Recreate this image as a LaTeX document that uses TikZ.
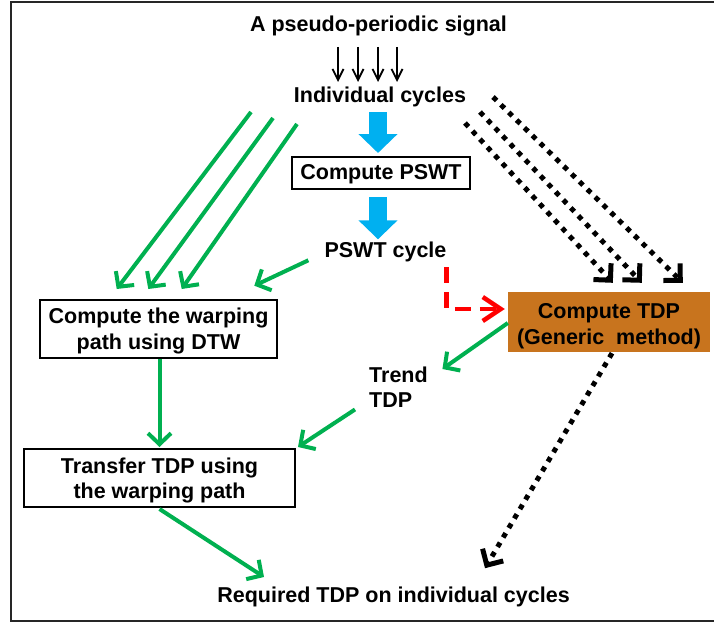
\documentclass[tikz,border=0pt]{standalone}
\usepackage{fontspec}
\setmainfont{Liberation Sans}
\usetikzlibrary{arrows.meta,calc}
\definecolor{flowgreen}{HTML}{00B050}
\definecolor{flowblue}{HTML}{00B0F0}
\definecolor{tdporange}{HTML}{C8741E}
\begin{document}
\begin{tikzpicture}[x=1pt,y=-1pt,
  every node/.style={font=\bfseries\fontsize{21.5}{25.5}\selectfont, inner sep=0pt},
  txt/.style={anchor=base},
  boxtext/.style={align=center},
  procbox/.style={draw=black, line width=2pt},
  tdpbox/.style={fill=tdporange},
  thinarrow/.style={line width=1.8pt, -{Straight Barb[length=11pt,width=11pt]}},
  fatarrow/.style={draw=flowblue, line width=18pt, -{Triangle[length=19pt,width=38pt]}},
  greenarrow/.style={draw=flowgreen, line width=4pt, -{Straight Barb[length=11pt,width=23pt]}},
  dotarrow/.style={line width=5pt, dash pattern=on 5pt off 6pt, -{Straight Barb[length=12pt,width=24pt]}},
  redarrow/.style={draw=red, line width=4.5pt, dash pattern=on 16pt off 9pt, -{Straight Barb[length=18pt,width=24pt]}},
]
\useasboundingbox (0,0) rectangle (714,623);

% outer frame (open on the right)
\draw[line width=2pt, black!85] (714,2) -- (10.8,2) -- (10.8,621) -- (714,621);

% plain text nodes
\node[txt] (title) at (378.5,32) {A pseudo-periodic signal};
\node[txt] (ind) at (380,102.7) {Individual cycles};
\node[txt] (pswtc) at (385.5,257.3) {PSWT cycle};
\node[anchor=north west, align=left] (trend) at (369,366.5) {Trend\\TDP};
\node[txt] (req) at (393.5,602.5) {Required TDP on individual cycles};

% boxes and their labels
\node[procbox, minimum width=178pt, minimum height=32pt] (pswt) at (381,173) {};
\node[boxtext] (pswtlbl) at ($(pswt.center)+(0,1.5)$) {Compute PSWT};
\node[procbox, minimum width=237pt, minimum height=58pt] (dtw) at (158.5,329) {};
\node[boxtext] (dtwlbl) at ($(dtw.center)+(0,2)$) {Compute the warping\\path using DTW};
\node[tdpbox, minimum width=202pt, minimum height=60pt] (tdp) at (609,322) {};
\node[boxtext] (tdplbl) at ($(tdp.center)+(0,4)$) {Compute TDP\\(Generic\ \ method)};
\node[procbox, minimum width=271pt, minimum height=58pt] (xfer) at (159.5,478) {};
\node[boxtext] (xferlbl) at ($(xfer.center)+(0,2.5)$) {Transfer TDP using\\the warping path};

% signal split into cycles
\foreach \a/\b in {-40.5/-42, -20.5/-22, -0.5/-2, 18.5/17}
  \draw[thinarrow] ($(title.base)+(\a,15)$) -- ($(ind.base)+(\b,-20.7)$);

% PSWT chain
\draw[fatarrow] ($(ind.base)+(-2,9.5)$) -- ($(pswt.north)+(-3,-3)$);
\draw[fatarrow] ($(pswt.south)+(-3,7)$) -- ($(pswtc.base)+(-7.5,-18)$);

% cycles into DTW
\coordinate (g1) at (251,112);
\coordinate (g2) at (273,118);
\coordinate (g3) at (297,124);
\draw[greenarrow] (g1) -- ($(dtw.north)+(-41.8,-10)$);
\draw[greenarrow] (g2) -- ($(dtw.north)+(-10.2,-10)$);
\draw[greenarrow] (g3) -- ($(dtw.north)+(23.2,-10)$);
\draw[greenarrow] ($(pswtc.base west)+(-16,3)$) -- ($(dtw.north east)+(-23.7,-13.3)$);
\draw[greenarrow] ($(dtw.south)+(1,0)$) -- ($(xfer.north)+(0,-1)$);

% trend TDP
\draw[greenarrow] ($(tdp.west)+(0,1)$) -- ($(trend.north east)+(14.5,2.5)$);
\draw[greenarrow] ($(trend.south west)+(-14,1.5)$) -- ($(xfer.north east)+(2,-1)$);
\draw[greenarrow] ($(xfer.south)+(0,1)$) -- ($(req.base)+(-129.5,-25.5)$);

% PSWT cycle into the generic method
\draw[redarrow] ($(pswtc.base east)+(0,10)$) |- ($(tdp.west)+(-3,-13)$);

% cycles into the generic method, and its output
\coordinate (d1) at (465,123);
\coordinate (d2) at (480,112);
\coordinate (d3) at (493,97);
\draw[dotarrow] (d1) -- ($(tdp.north west)+(105,-9)$);
\draw[dotarrow] (d2) -- ($(tdp.north west)+(134,-9)$);
\draw[dotarrow] (d3) -- ($(tdp.north west)+(175,-9)$);
\draw[dotarrow] ($(tdp.south)+(3,1)$) -- ($(req.base)+(91.5,-34.3)$);
\end{tikzpicture}
\end{document}
